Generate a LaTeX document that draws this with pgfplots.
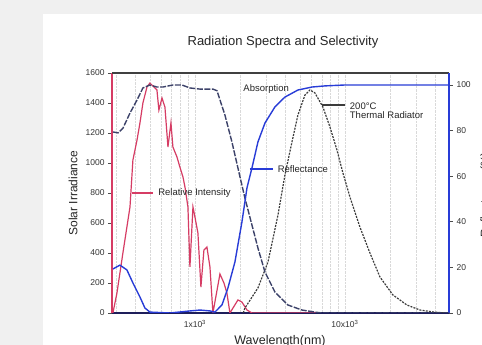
\documentclass[border=0pt]{standalone}
\usepackage{pgfplots}
\pgfplotsset{compat=1.18}
\usepackage{fontspec}
\setmainfont{Liberation Sans}
\definecolor{bgc}{HTML}{F0F0F0}
\definecolor{redc}{RGB}{214,60,100}
\definecolor{bluec}{RGB}{40,60,215}
\definecolor{absc}{RGB}{60,66,105}
\definecolor{thc}{RGB}{60,60,60}
\definecolor{navyc}{RGB}{30,30,90}
\begin{document}
\begin{tikzpicture}
\useasboundingbox (0pt,0pt) rectangle (482pt,345pt);
\clip (0pt,0pt) rectangle (482pt,345pt);
\fill[bgc] (0pt,0pt) rectangle (482pt,345pt);
\fill[white] (43pt,0pt) rectangle (482pt,331pt);
\node[font=\fontsize{13}{15}\selectfont, text=black!85] at (283pt,303pt) {Radiation Spectra and Selectivity};
\node[font=\fontsize{12}{14}\selectfont, rotate=90, text=black!85] at (73pt,152pt) {Solar Irradiance};
\node[font=\fontsize{12.5}{14}\selectfont, text=black!85] at (280pt,4pt) {Wavelength(nm)};
\node[font=\fontsize{12}{14}\selectfont, rotate=90, text=black!85] at (486pt,150pt) {Reflectance (\%)};
\begin{axis}[
  at={(112pt,32pt)}, anchor=south west, scale only axis,
  width=337pt, height=240pt,
  xmode=log, xmin=280, xmax=49400, ymin=0, ymax=1600,
  axis x line*=bottom, axis y line*=left,
  x axis line style={-, draw=navyc, line width=1.6pt},
  y axis line style={-, draw=redc, line width=1.8pt},
  xtick={1000,10000}, xticklabels={1x10\textsuperscript{3},10x10\textsuperscript{3}},
  minor xtick={300,400,500,600,700,800,900,2000,3000,4000,5000,6000,7000,8000,9000,20000,30000,40000},
  xmajorgrids, xminorgrids,
  major grid style={densely dotted, gray!30},
  minor grid style={densely dotted, gray!30},
  ytick={0,200,...,1600},
  tick label style={font=\fontsize{8.5}{10}\selectfont, text=black!80},
  /pgf/number format/assume math mode=true,
  /pgf/number format/1000 sep={},
  tick align=outside, major tick length=4pt, minor tick length=0pt,
  xtick style={draw=none},
  ytick style={black!70, line width=0.6pt},
]
% Relative intensity (solar spectrum)
\addplot[redc, line width=1.2pt] coordinates {
(284,0) (302,133) (331,400) (369,707) (386,1020) (411,1153) (430,1267) (450,1400)
(479,1507) (501,1533) (525,1513) (558,1487) (575,1353) (603,1433) (631,1373)
(661,1107) (692,1267) (713,1107) (759,1040) (794,973) (832,907) (858,840) (898,707)
(926,307) (970,707) (1000,640) (1047,533) (1096,173) (1148,420) (1202,440) (1259,307)
(1318,0) (1468,260) (1561,200) (1634,133) (1711,0) (1935,87) (2057,73) (2222,20)
(2400,0) (6813,0)};
% 200 C thermal radiator
\addplot[thc, line width=1.2pt, dash pattern=on 2pt off 1.2pt] coordinates {
(2100,0) (2154,33) (2630,167) (3069,340) (3577,653) (3981,920) (4434,1140) (4860,1320)
(5412,1453) (5843,1487) (6310,1467) (7134,1373) (7943,1240) (8845,1087) (9698,933)
(10800,773) (12589,573) (14678,400) (17113,240) (20893,120) (25912,53) (31623,20)
(38610,7) (47863,0)};
% annotations
\node[anchor=west, font=\fontsize{9.5}{10}\selectfont, text=black!85] at (axis cs:1995,1493) {Absorption};
\draw[bluec, line width=1.5pt] (axis cs:2326,960) -- (axis cs:3311,960);
\node[anchor=west, font=\fontsize{9.5}{10}\selectfont, text=black!85] at (axis cs:3380,960) {Reflectance};
\draw[redc, line width=1.2pt] (axis cs:380,800) -- (axis cs:525,800);
\node[anchor=west, font=\fontsize{9.5}{10}\selectfont, text=black!85] at (axis cs:540,800) {Relative Intensity};
\draw[thc, line width=1.5pt] (axis cs:7025,1387) -- (axis cs:10000,1387);
\node[anchor=west, align=left, font=\fontsize{9.5}{9.5}\selectfont, inner sep=1pt, text=black!85] at (axis cs:10600,1350) {200°C\\Thermal Radiator};
\end{axis}
\begin{axis}[
  at={(112pt,32pt)}, anchor=south west, scale only axis,
  width=337pt, height=240pt,
  xmode=log, xmin=280, xmax=49400, ymin=0, ymax=105.26,
  axis x line*=top, axis y line*=right,
  x axis line style={-, draw=black!75, line width=1.2pt},
  y axis line style={-, draw=bluec, line width=1.8pt},
  xtick=\empty, minor xtick={},
  ytick={0,20,...,100},
  tick label style={font=\fontsize{8.5}{10}\selectfont, text=black!80},
  /pgf/number format/assume math mode=true,
  tick align=outside, major tick length=4pt,
  ytick style={black!70, line width=0.6pt},
]
% Absorption
\addplot[absc, line width=1.4pt, dash pattern=on 6pt off 1.5pt] coordinates {
(284,79.4) (307,79) (331,81) (369,87.7) (411,93.4) (450,98.7) (501,100) (558,99.1)
(612,99.1) (713,100) (819,100) (926,98.7) (1080,98.2) (1318,98.2) (1402,97.5)
(1585,86.8) (1765,75) (1935,63.6) (2154,50.4) (2399,38.6) (2630,28.5) (2929,18)
(3415,9.2) (4169,3.5) (5170,1.3) (6310,0.4) (7000,0) (49360,0)};
% Reflectance
\addplot[bluec, line width=1.4pt] coordinates {
(284,19.3) (316,21) (352,18.9) (386,13.2) (430,7) (464,2.2) (501,0.4) (681,0)
(926,0.9) (1080,1.3) (1259,0.9) (1359,0.4) (1514,3.5) (1660,11) (1848,22.4)
(2057,39.9) (2222,54.8) (2399,63.6) (2630,75) (2929,83.3) (3415,90.4) (3981,94.7)
(4860,97.8) (6026,99.1) (7356,99.6) (10000,100) (49360,100)};
\end{axis}
\end{tikzpicture}
\end{document}
